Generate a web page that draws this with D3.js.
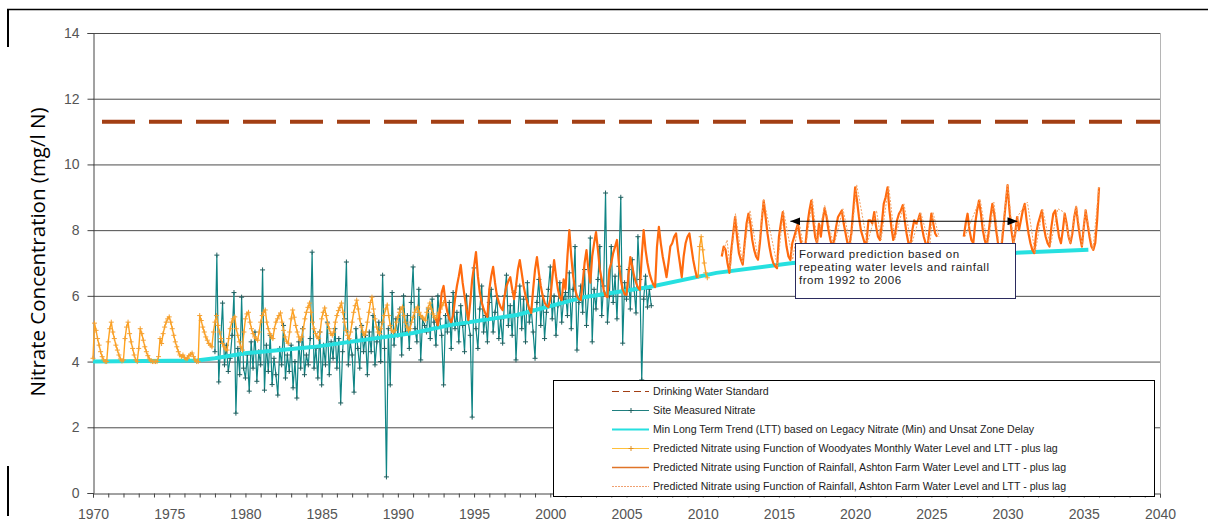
<!DOCTYPE html>
<html lang="en">
<head>
<meta charset="UTF-8">
<title>Nitrate Concentration</title>
<script src="https://d3js.org/d3.v7.min.js"></script>
<style>
    body { margin: 0; background: #fff; }
    svg text { font-family: "Liberation Sans", Arial, sans-serif; }
</style>
</head>
<body>
<div id="chart"></div>
<script>
// ---- data ----
var xTicks = d3.range(1970, 2041);          // one tick per year, label every 5
var yTicks = [0, 2, 4, 6, 8, 10, 12, 14];

var drinkingStd = [[1970, 11.3], [2040, 11.3]];

// min long term trend [year, mg/l]
var lttPoints = [[1970, 4.0], [1976.8, 4.03], [1978, 4.1], [1980.1, 4.26], [1984.4, 4.44],
    [1991, 4.87], [1993.4, 5.11], [1997.8, 5.42], [2002.2, 5.96], [2006.5, 6.27],
    [2010.9, 6.7], [2015.9, 7.0], [2020, 7.1], [2025, 7.2], [2030, 7.3], [2035.3, 7.4]];

// site measured nitrate, every 1/8 year from 1978
var siteStart = 1978, siteStep = 0.125;
var siteValues = [
    4.3, 7.24, 3.38, 4.6, 5.78, 3.9, 4.5, 3.7,
    4.1, 4.8, 6.1, 2.43, 4.4, 3.6, 5.96, 3.8,
    3.5, 4.2, 3.1, 4.6, 3.8, 4.9, 3.4, 4.3,
    3.9, 6.79, 3.13, 4.5, 3.7, 4.8, 3.3, 4.1,
    3.6, 2.98, 4.4, 3.9, 5.1, 3.5, 4.2, 3.7,
    4.5, 3.2, 4.0, 2.89, 4.6, 3.8, 5.0, 3.6,
    4.2, 3.9, 4.7, 7.33, 3.8, 4.4, 3.5, 4.9,
    3.29, 4.5, 3.9, 5.2, 3.6, 4.6, 4.1, 5.0,
    3.8, 4.7, 2.74, 4.3, 5.3, 7.03, 3.9, 4.6,
    4.2, 3.07, 5.0, 4.4, 3.8, 5.1, 4.3, 4.8,
    3.6, 4.9, 4.3, 5.4, 3.9, 4.6, 5.2, 4.0,
    6.63, 4.4, 0.49, 5.0, 3.29, 6.1, 4.5, 5.3,
    4.8, 5.6, 4.2, 6.0, 4.9, 5.4, 4.4, 5.8,
    6.88, 5.0, 4.6, 6.2, 4.05, 5.3, 5.1, 4.9,
    5.6, 4.7, 5.9, 5.2, 4.5, 6.0, 5.3, 4.8,
    3.29, 5.4, 4.9, 5.8, 4.4, 6.1, 5.0, 5.5,
    4.6, 5.7, 5.1, 4.3, 6.0, 5.2, 4.8, 2.31,
    6.85, 5.0, 4.4, 5.6, 6.3, 4.9, 5.4, 4.6,
    5.8, 6.2, 4.9, 5.5, 6.0, 4.7, 5.3, 4.56,
    6.0, 6.63, 5.1, 5.7, 4.8, 6.1, 4.05, 5.4,
    6.3, 5.0, 5.9, 4.6, 6.4, 5.2, 5.6, 4.9,
    4.1, 5.8, 6.5, 5.1, 6.0, 4.7, 5.5, 6.2,
    6.88, 5.3, 6.0, 4.8, 5.7, 6.4, 5.2, 5.9,
    6.1, 5.4, 6.7, 5.0, 6.2, 7.5, 4.35, 5.8,
    6.3, 5.5, 6.8, 5.1, 6.0, 7.76, 4.6, 6.2,
    5.6, 6.5, 7.5, 5.4, 6.3, 9.13, 5.2, 6.0,
    7.5, 5.8, 6.6, 5.3, 6.9, 9.0, 4.56, 6.4,
    5.9, 6.8, 5.6, 7.1, 6.2, 5.48, 7.8, 6.5,
    3.44, 5.9, 6.6, 5.66, 6.2, 5.7
];

// predicted from Woodyates water level, every 0.1 year from 1970
var woodStart = 1970, woodStep = 0.1;
var woodValues = [
    4.1, 5.17, 4.95, 4.7, 4.5, 4.3, 4.15, 4.05, 4.0, 4.0,
    4.6, 5.0, 5.2, 4.9, 4.7, 4.5, 4.35, 4.2, 4.08, 4.02,
    4.05, 4.7, 5.05, 5.2, 4.85, 4.6, 4.4, 4.2, 4.05, 4.0,
    4.4, 5.0, 4.85, 4.65, 4.45, 4.3, 4.18, 4.08, 4.02, 4.0,
    4.0, 4.0, 4.0, 4.15, 4.7, 4.55, 4.85, 5.05, 5.2, 5.3,
    5.36, 5.2, 5.0, 4.8, 4.6, 4.45, 4.3, 4.2, 4.15, 4.2,
    4.12, 4.08, 4.1, 4.18, 4.22, 4.26, 4.15, 4.05, 4.0, 4.0,
    5.4, 5.25, 5.05, 4.9, 4.75, 4.65, 4.55, 4.5, 4.45, 4.9,
    5.2, 5.4, 5.1, 4.9, 4.7, 4.55, 4.45, 4.38, 4.35, 4.7,
    5.0, 5.2, 5.3, 5.36, 5.0, 4.8, 4.6, 4.45, 4.35, 4.9,
    5.3, 5.45, 5.5, 5.2, 5.0, 4.85, 4.75, 4.7, 4.65, 4.9,
    5.2, 5.4, 5.5, 5.57, 5.2, 5.0, 4.85, 4.75, 4.7, 5.0,
    5.2, 5.3, 5.4, 5.48, 5.2, 4.95, 4.75, 4.62, 4.56, 4.9,
    5.3, 5.57, 5.35, 5.1, 4.9, 4.75, 4.65, 4.75, 5.0, 5.3,
    5.5, 5.65, 5.78, 5.5, 5.2, 5.0, 4.85, 4.75, 4.7, 4.9,
    5.3, 5.5, 5.63, 5.4, 5.15, 5.0, 4.85, 4.8, 4.9, 5.2,
    5.4, 5.55, 5.65, 5.78, 5.5, 5.2, 4.95, 4.8, 4.7, 4.9,
    5.2, 5.5, 5.7, 5.87, 5.6, 5.3, 5.05, 4.9, 4.8, 4.9,
    5.2, 5.5, 5.8, 5.96, 5.6, 5.3, 5.05, 4.9, 4.85, 5.0,
    5.2, 5.4, 5.6, 5.72, 5.4, 5.1, 4.95, 4.9, 4.95, 5.2,
    5.35, 5.5, 5.6, 5.66, 5.4, 5.2, 5.05, 4.95, 5.0, 5.2,
    5.35, 5.5, 5.6, 5.66, 5.5, 5.4, 5.35, 5.3, 5.26, 5.5,
    5.65, 5.78, 5.6, 5.45, 5.35, 5.3, 5.4, 5.5, 5.6, 5.7,
    5.8
];
var woodLate = [[2009.7, 6.6], [2009.8, 7.5], [2009.9, 7.8], [2010.0, 7.4],
    [2010.1, 7.0], [2010.2, 6.7], [2010.3, 6.55]];

// predicted from rainfall + Ashton Farm level, every 1/8 year from 1992 (null = no value)
var ashStart = 1992, ashStep = 0.125;
var ashValues = [
    null, null, null, null, 5.3, 5.1, 5.5, 6.1,
    6.3, 5.8, 5.5, 5.3, 5.2, 5.4, 5.9, 6.3,
    6.6, 6.94, 6.4, 6.0, 5.6, 5.26, 5.8, 6.5,
    6.9, 7.33, 6.6, 6.1, 5.8, 5.6, 5.45, 5.36,
    6.2, 6.6, 6.88, 6.4, 6.0, 5.8, 5.65, 5.57,
    6.0, 6.3, 6.45, 6.57, 6.2, 5.9, 6.3, 6.8,
    7.09, 6.7, 6.3, 6.0, 5.8, 5.6, 5.48, 6.2,
    6.8, 7.18, 6.7, 6.3, 6.0, 5.8, 5.7, 5.66,
    5.9, 6.5, 7.09, 6.6, 6.2, 5.95, 5.87, 6.5,
    6.2, 7.2, 8.0, 7.2, 6.6, 6.2, 6.0, 5.9,
    5.87, 6.4, 7.0, 7.39, 6.8, 6.4, 7.2, 7.6,
    7.94, 7.4, 6.8, 6.5, 6.2, 6.0, 5.96, 6.8,
    7.0, 7.3, 7.5, 7.7, 7.0, 6.5, 6.2, 6.05,
    6.03, 6.6, 7.18, 6.9, 6.6, 6.4, 6.25, 6.18,
    7.2, 8.0, 7.4, 7.0, 6.7, 6.5, 6.35, 6.27,
    7.5, 8.1, 7.6, 7.2, 6.9, 6.57, 7.0, 7.5,
    7.6, 7.8, 7.9, 7.4, 7.0, 6.57, 7.2, 7.6,
    7.8, 7.9, 7.5, 7.1, 6.8, 6.54, null, null,
    null, null, null, null, null, null, null, null,
    null, null, 7.2, 7.5, 7.4, 7.0, 6.7, 7.4,
    7.9, 8.4, 7.8, 7.3, 7.1, 6.95, 7.6, 8.2,
    8.5, 8.2, 7.7, 7.4, 7.2, 7.1, 7.6, 8.3,
    8.9, 8.4, 7.9, 7.5, 7.2, 7.0, 6.9, 6.84,
    7.8, 8.2, 8.55, 8.0, 7.5, 7.2, 7.09, 7.6,
    7.8, 8.0, 8.2, 7.8, 7.5, 7.3, 7.6, 8.2,
    8.6, 8.9, 8.3, 7.8, 7.6, 8.2, 7.8, 8.3,
    8.67, 8.4, 8.0, 7.7, 7.5, 7.7, 8.1, 8.4,
    8.5, 8.6, 8.2, 7.9, 7.6, 7.55, 7.9, 8.6,
    9.3, 8.9, 8.4, 8.0, 7.8, 7.6, 7.65, 8.3,
    8.3, 8.2, 8.55, 8.1, 7.8, 7.7, 8.2, 8.8,
    9.0, 9.3, 8.6, 8.1, 7.7, 7.9, 8.3, 8.5,
    8.6, 8.76, 8.3, 7.9, 7.6, 7.55, 8.0, 8.3,
    8.2, 8.3, 8.5, 8.1, 7.8, 7.6, 7.5, 8.0,
    8.5, 8.2, 7.9, 7.8, null, null, null, null,
    null, null, null, null, null, null, null, null,
    null, 7.8, 8.2, 8.5, 8.0, 7.7, 7.6, 8.2,
    8.6, 8.9, 8.5, 8.0, 7.7, 7.5, 7.9, 8.4,
    8.8, 8.5, 8.0, 7.6, 7.3, 7.6, 8.2, 8.8,
    9.37, 8.6, 8.0, 7.6, 7.9, 8.4, 8.0, 8.3,
    8.6, 8.8, 8.3, 7.9, 7.6, 7.4, 7.3, 7.9,
    8.2, 8.4, 8.6, 8.1, 7.8, 7.6, 7.5, 8.1,
    8.5, 8.6, 8.2, 7.8, 7.6, 8.0, 8.5, 8.2,
    7.8, 7.6, 7.9, 8.4, 8.7, 8.2, 7.8, 7.5,
    8.1, 8.6, 8.2, 7.8, 7.5, 7.4, 7.6, 8.3,
    9.3
];

// dotted (lagged) forward run, turning points [year, mg/l]
var ashDotted = [[2011.3, 7.3], [2011.6, 7.7], [2011.8, 6.8], [2012.15, 8.5], [2012.6, 7.0],
    [2013.1, 8.6], [2013.6, 7.2], [2014.0, 8.95], [2014.9, 6.9], [2015.3, 8.6], [2015.9, 7.1],
    [2016.3, 8.3], [2016.7, 7.3], [2017.2, 8.95], [2017.5, 7.6], [2018.0, 8.75], [2018.6, 7.5],
    [2019.2, 8.65], [2019.7, 7.5], [2020.1, 9.38], [2020.8, 7.6], [2021.4, 8.6], [2021.7, 7.7],
    [2022.2, 9.35], [2022.6, 7.7], [2023.2, 8.8], [2023.7, 7.55], [2024.3, 8.55], [2024.9, 7.5],
    [2025.1, 8.55], [2025.5, 7.8], null, [2027.2, 7.8], [2028.2, 8.95], [2028.7, 7.5],
    [2029.1, 8.85], [2029.5, 7.3], [2030.0, 9.4], [2030.4, 7.6], [2030.7, 8.45], [2031.3, 8.85],
    [2031.8, 7.3], [2032.3, 8.65], [2032.8, 7.5], [2033.3, 8.65], [2033.7, 8.55], [2034.1, 7.6],
    [2034.5, 8.75], [2034.9, 7.5], [2035.1, 8.65], [2035.6, 7.4], [2036.0, 9.35]];

var legendLabels = [
    "Drinking Water Standard",
    "Site Measured Nitrate",
    "Min Long Term Trend (LTT) based on Legacy Nitrate (Min) and Unsat Zone Delay",
    "Predicted Nitrate using Function of Woodyates Monthly Water Level and LTT - plus lag",
    "Predicted Nitrate using Function of Rainfall, Ashton Farm Water Level and LTT - plus lag",
    "Predicted Nitrate using Function of Rainfall, Ashton Farm Water Level and LTT - plus lag"
];
var noteLines = ["Forward prediction based on", "repeating water levels and rainfall", "from 1992 to 2006"];
var noteSpan = [2015.75, 2030.65];   // ends of the double arrow
var noteLevel = 8.27;

// ---- drawing ----
var W = 1208, H = 521;
var svg = d3.select("#chart").append("svg")
    .attr("width", W).attr("height", H);

var x = d3.scaleLinear().domain([1970, 2040]).range([93, 1160]);
var y = d3.scaleLinear().domain([0, 14]).range([493, 33]);

function regular(start, step, values) {
    return values.map(function (v, i) { return v === null ? null : [start + i * step, v]; });
}
var siteData = regular(siteStart, siteStep, siteValues);
var woodData = regular(woodStart, woodStep, woodValues);
var ashData = regular(ashStart, ashStep, ashValues);

var line = d3.line()
    .defined(function (d) { return d !== null; })
    .x(function (d) { return x(d[0]); })
    .y(function (d) { return y(d[1]); });

// outer frame pieces
svg.append("line").attr("x1", 7).attr("y1", 9.5).attr("x2", W).attr("y2", 9.5)
    .attr("stroke", "#000").attr("stroke-width", 1.5);
svg.append("line").attr("x1", 8).attr("y1", 9).attr("x2", 8).attr("y2", 47)
    .attr("stroke", "#000").attr("stroke-width", 2);
svg.append("line").attr("x1", 8).attr("y1", 466).attr("x2", 8).attr("y2", 516)
    .attr("stroke", "#000").attr("stroke-width", 2);

// gridlines + plot border
svg.append("g").selectAll("line").data(yTicks.filter(function (t) { return t > 0; }))
    .join("line")
    .attr("x1", x(1970)).attr("x2", x(2040))
    .attr("y1", function (d) { return y(d) + 0.5; })
    .attr("y2", function (d) { return y(d) + 0.5; })
    .attr("stroke", "#4c4c4c").attr("stroke-width", 1);
svg.append("line").attr("x1", x(2040) + 0.5).attr("x2", x(2040) + 0.5)
    .attr("y1", y(14)).attr("y2", y(0))
    .attr("stroke", "#b5b5b5");

// axes
var yAxis = svg.append("g").attr("transform", "translate(" + (x(1970) + 0.5) + ",0)")
    .call(d3.axisLeft(y).tickValues(yTicks).tickSize(6).tickPadding(8));
var xAxis = svg.append("g").attr("transform", "translate(0," + (y(0) + 0.5) + ")")
    .call(d3.axisBottom(x).tickValues(xTicks).tickSize(4).tickPadding(12)
        .tickFormat(function (d) { return d % 5 === 0 ? d : ""; }));
[yAxis, xAxis].forEach(function (g) {
    g.select(".domain").attr("stroke", "#444");
    g.selectAll(".tick line").attr("stroke", "#444");
    g.selectAll("text").attr("fill", "#555").style("font-size", "14px")
        .style("font-family", "'Liberation Sans', Arial, sans-serif");
});

// y title
svg.append("text")
    .attr("transform", "translate(45,252) rotate(-90)")
    .attr("text-anchor", "middle")
    .style("font-family", "'Open Sans', sans-serif")
    .style("font-size", "20.5px")
    .attr("fill", "#000")
    .text("Nitrate Concentration (mg/l N)");

var cross = "M-2.5,0H2.5M0,-2.5V2.5";

// drinking water standard
svg.append("path").datum(drinkingStd).attr("d", line)
    .attr("fill", "none").attr("stroke", "#a33f14").attr("stroke-width", 4)
    .attr("stroke-dasharray", "33,14").attr("stroke-dashoffset", -9);

// site measured nitrate
svg.append("path").datum(siteData).attr("d", line)
    .attr("fill", "none").attr("stroke", "#0f8585").attr("stroke-width", 1.2);
svg.append("g").selectAll("path").data(siteData).join("path")
    .attr("transform", function (d) { return "translate(" + x(d[0]) + "," + y(d[1]) + ")"; })
    .attr("d", cross).attr("stroke", "#1f5f5f").attr("stroke-width", 1);

// min long term trend
svg.append("path").datum(lttPoints).attr("d", line)
    .attr("fill", "none").attr("stroke", "#26e0e0").attr("stroke-width", 4);

// woodyates prediction
[woodData, woodLate].forEach(function (data) {
    svg.append("path").datum(data).attr("d", line)
        .attr("fill", "none").attr("stroke", "#ffa21f").attr("stroke-width", 1.4);
    svg.append("g").selectAll("path").data(data).join("path")
        .attr("transform", function (d) { return "translate(" + x(d[0]) + "," + y(d[1]) + ")"; })
        .attr("d", cross).attr("stroke", "#f5a030").attr("stroke-width", 1);
});

// rainfall / ashton prediction
svg.append("path").datum(ashData).attr("d", line)
    .attr("fill", "none").attr("stroke", "#ff6a0e").attr("stroke-width", 2.2)
    .attr("stroke-linejoin", "round");
svg.append("path").datum(ashDotted).attr("d", line)
    .attr("fill", "none").attr("stroke", "#f4a060").attr("stroke-width", 1)
    .attr("stroke-dasharray", "2,1.5");

// annotation arrow + box
var defs = svg.append("defs");
["start", "end"].forEach(function (k) {
    defs.append("marker").attr("id", "arr-" + k)
        .attr("viewBox", "0 0 10 8").attr("refX", k === "end" ? 10 : 0).attr("refY", 4)
        .attr("markerWidth", 10).attr("markerHeight", 8).attr("markerUnits", "userSpaceOnUse")
        .attr("orient", "auto")
        .append("path")
        .attr("d", k === "end" ? "M0,0L10,4L0,8z" : "M10,0L0,4L10,8z")
        .attr("fill", "#000");
});
svg.append("line")
    .attr("x1", x(noteSpan[0])).attr("x2", x(noteSpan[1]))
    .attr("y1", y(noteLevel)).attr("y2", y(noteLevel))
    .attr("stroke", "#000").attr("stroke-width", 1.2)
    .attr("marker-start", "url(#arr-start)").attr("marker-end", "url(#arr-end)");

var note = svg.append("g").attr("transform", "translate(795,243)");
note.append("rect").attr("x", 0.5).attr("y", 0.5).attr("width", 220).attr("height", 55)
    .attr("fill", "#fff").attr("stroke", "#2b2b5e").attr("stroke-width", 1);
note.selectAll("text").data(noteLines).join("text")
    .attr("x", 4).attr("y", function (d, i) { return 15 + i * 13; })
    .style("font-size", "11.5px").style("letter-spacing", "0.55px")
    .attr("fill", "#222").text(function (d) { return d; });

// legend
var leg = svg.append("g").attr("transform", "translate(553,380)");
leg.append("rect").attr("x", 0.5).attr("y", 0.5).attr("width", 601).attr("height", 116)
    .attr("fill", "#fff").attr("stroke", "#000").attr("stroke-width", 1);
var legStyles = [
    { c: "#a33f14", w: 1, dash: "7,4", mark: false },
    { c: "#1f7f7f", w: 1, dash: null, mark: true },
    { c: "#26e0e0", w: 2, dash: null, mark: false },
    { c: "#ffc03a", w: 1, dash: null, mark: true },
    { c: "#e07428", w: 1.3, dash: null, mark: false },
    { c: "#f0a070", w: 1, dash: "2,1", mark: false }
];
var rows = leg.selectAll("g.row").data(legendLabels).join("g")
    .attr("class", "row")
    .attr("transform", function (d, i) { return "translate(0," + (11.5 + i * 19) + ")"; });
rows.append("line").attr("x1", 59).attr("x2", 96).attr("y1", 0).attr("y2", 0)
    .attr("stroke", function (d, i) { return legStyles[i].c; })
    .attr("stroke-width", function (d, i) { return legStyles[i].w; })
    .attr("stroke-dasharray", function (d, i) { return legStyles[i].dash; });
rows.filter(function (d, i) { return legStyles[i].mark; }).append("path")
    .attr("transform", "translate(78,0)").attr("d", cross)
    .attr("stroke", function (d, i) { return i === 0 ? "#1f5f5f" : "#e09020"; });
rows.append("text").attr("x", 100).attr("y", 3.7)
    .style("font-size", "10.6px").attr("fill", "#222")
    .text(function (d) { return d; });
</script>
</body>
</html>
